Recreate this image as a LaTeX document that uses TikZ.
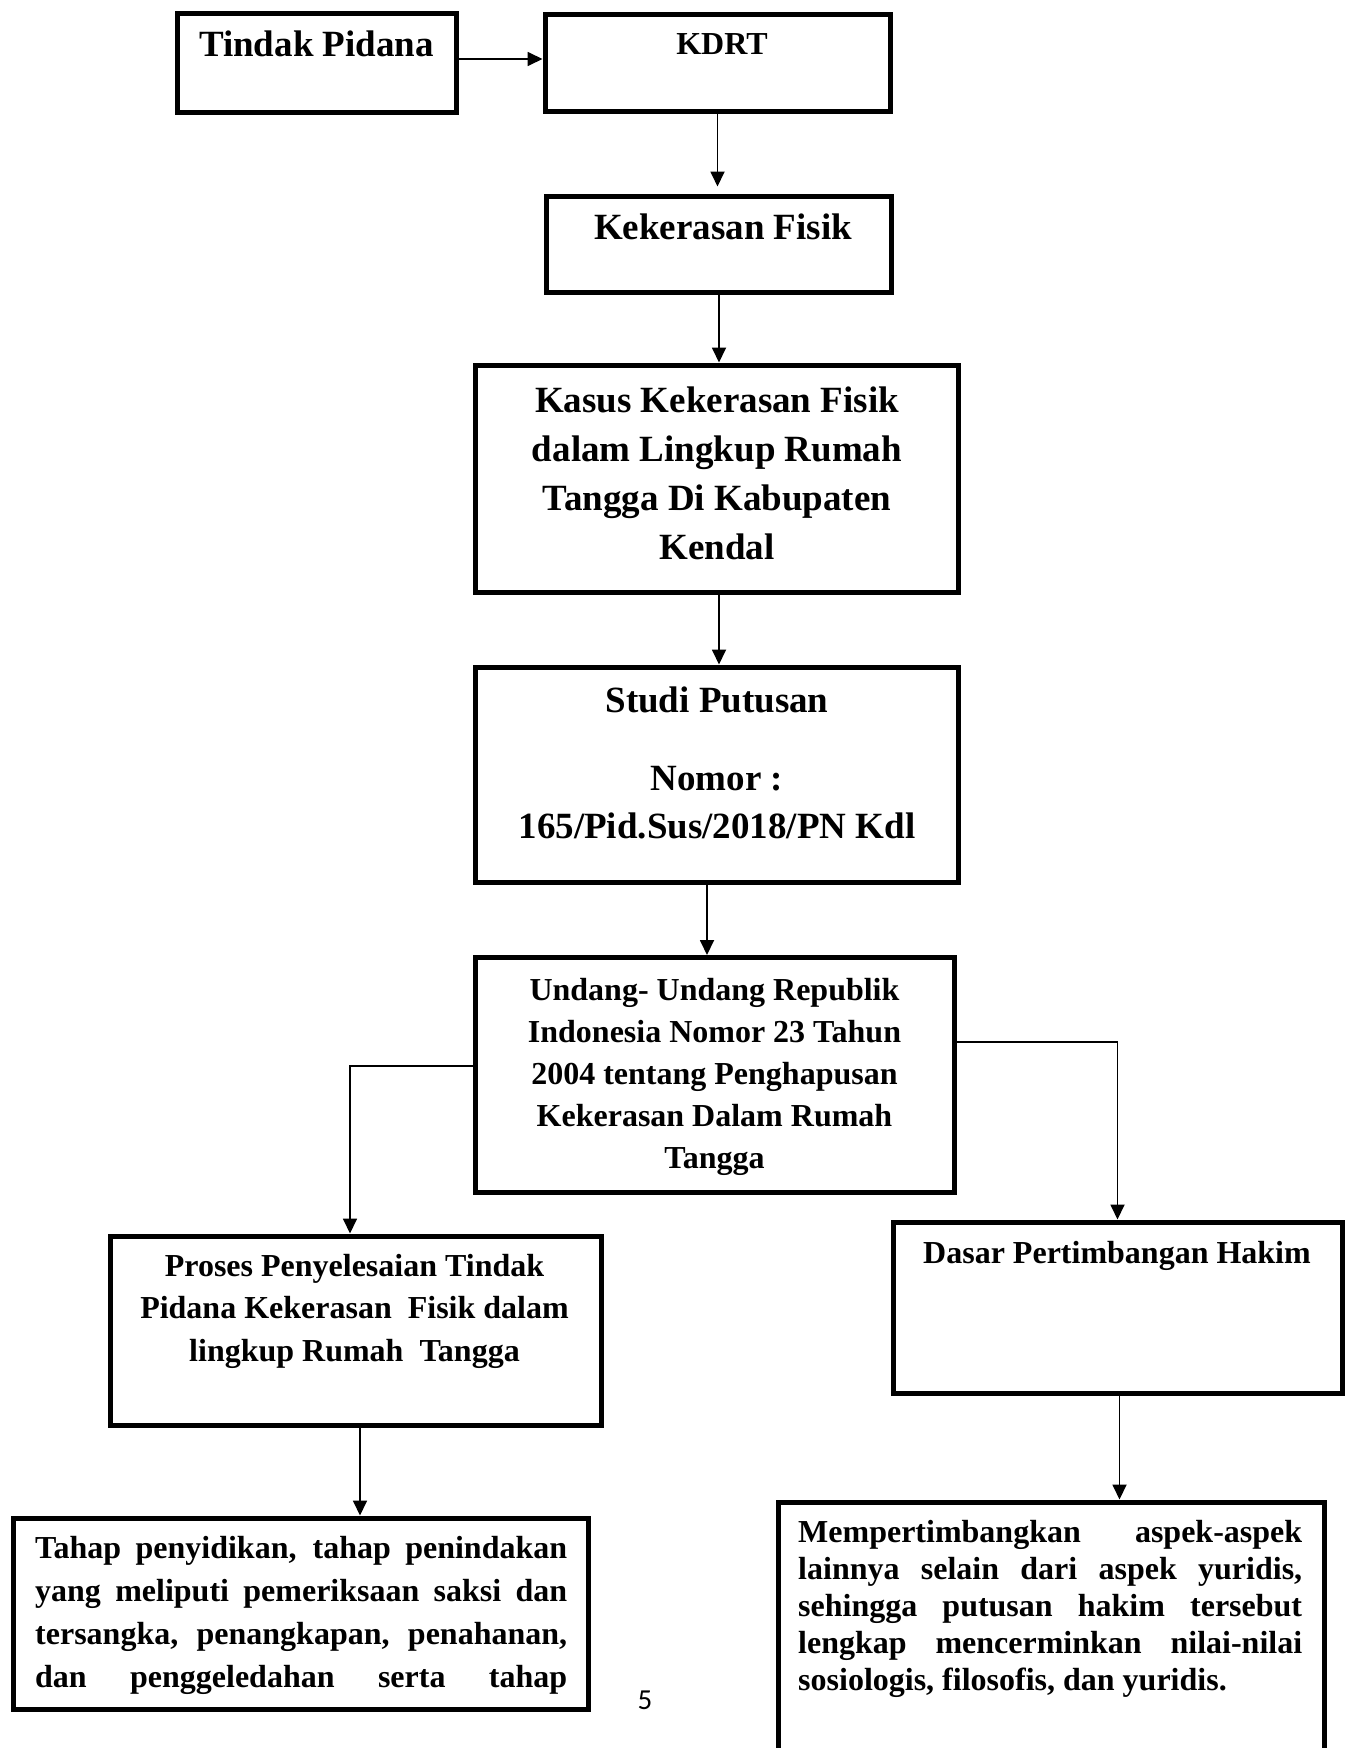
\documentclass[tikz,border=0pt]{standalone}
\usepackage{fontspec}
\setmainfont{Liberation Serif}
\newfontfamily\pagenumfont{Carlito}
\usetikzlibrary{arrows.meta}
\begin{document}
\begin{tikzpicture}[x=1pt,y=-1pt,
  box/.style={draw, line width=5pt, inner sep=0pt},
  arr/.style={line width=1.8pt, -{Triangle[length=15pt,width=14pt]}},
  txt/.style={inner sep=0pt, anchor=base},
  big/.style={font=\bfseries\fontsize{37}{49}\selectfont},
  mid/.style={font=\bfseries\fontsize{32}{42}\selectfont},
]
\useasboundingbox (0,0) rectangle (1352,1748);
\fill[white] (0,0) rectangle (1352,1748);
\clip (0,0) rectangle (1352,1748);

% boxes
\node[box, minimum width=279pt, minimum height=99pt] (tindak) at (316.5,62.5) {};
\node[box, minimum width=345pt, minimum height=97pt] (kdrt) at (717.5,62.5) {};
\node[box, minimum width=345pt, minimum height=96pt] (fisik) at (718.5,244) {};
\node[box, minimum width=483pt, minimum height=227pt] (kasus) at (717,478.5) {};
\node[box, minimum width=483pt, minimum height=215pt] (studi) at (717,774.5) {};
\node[box, minimum width=479pt, minimum height=235pt] (uu) at (715,1075) {};
\node[box, minimum width=491pt, minimum height=189pt] (proses) at (355.5,1330.5) {};
\node[box, minimum width=449pt, minimum height=171pt] (dasar) at (1117.5,1307.5) {};
\node[box, minimum width=575pt, minimum height=191pt] (tahap) at (300.5,1613.5) {};
\node[box, minimum width=546pt, minimum height=296pt] (memp) at (1051,1650) {};

% texts
\node[txt, big] (ttindak) at (316.5,56.7) {Tindak Pidana};
\node[txt, mid] (tkdrt) at (722,54.5) {KDRT};
\node[txt, big] (tfisik) at (723,239.5) {Kekerasan Fisik};
\node[txt] (tkasus) at (717,412) {\parbox[t]{480pt}{\centering\bfseries\fontsize{37}{49}\selectfont
  Kasus Kekerasan Fisik\\ dalam Lingkup Rumah\\ Tangga Di Kabupaten\\ Kendal}};
\node[txt] (tstudi) at (717,712) {\parbox[t]{480pt}{\centering\bfseries\fontsize{37}{48}\selectfont
  Studi Putusan\\[30pt] Nomor :\\ 165/Pid.Sus/2018/PN Kdl}};
\node[txt] (tuu) at (714.5,1000) {\parbox[t]{476pt}{\centering\bfseries\fontsize{32}{42.2}\selectfont
  Undang- Undang Republik\\ Indonesia Nomor 23 Tahun\\ 2004 tentang Penghapusan\\ Kekerasan Dalam Rumah\\ Tangga}};
\node[txt] (tproses) at (354.5,1276) {\parbox[t]{489pt}{\centering\bfseries\fontsize{32}{42.5}\selectfont
  Proses Penyelesaian Tindak\\ Pidana Kekerasan\ \ Fisik dalam\\ lingkup Rumah\ \ Tangga}};
\node[txt, mid] (tdasar) at (1117,1263) {Dasar Pertimbangan Hakim};
\node[txt, anchor=base west] (ttahap) at (35,1558) {\parbox[t]{532pt}{\bfseries\fontsize{32}{43}\selectfont
  \makebox[\linewidth][s]{Tahap penyidikan, tahap penindakan}\\
  \makebox[\linewidth][s]{yang meliputi pemeriksaan saksi dan}\\
  \makebox[\linewidth][s]{tersangka, penangkapan, penahanan,}\\
  \makebox[\linewidth][s]{dan penggeledahan serta tahap}}};
\node[txt, anchor=base west] (tmemp) at (798,1542) {\parbox[t]{504pt}{\bfseries\fontsize{32}{37}\selectfont
  \makebox[\linewidth][s]{Mempertimbangkan aspek-aspek}\\
  \makebox[\linewidth][s]{lainnya selain dari aspek yuridis,}\\
  \makebox[\linewidth][s]{sehingga putusan hakim tersebut}\\
  \makebox[\linewidth][s]{lengkap mencerminkan nilai-nilai}\\
  sosiologis, filosofis, dan yuridis.}};
\node[inner sep=0pt, font=\pagenumfont\fontsize{29}{29}\selectfont] (pnum) at (645,1700) {5};

% connectors
\draw[arr] ([yshift=3.5pt]tindak.east) -- ([yshift=3.5pt]kdrt.west);
\draw[arr, shorten >=7pt] (kdrt.south) -- (kdrt.south |- fisik.north);
\draw[arr] ([xshift=0.5pt]fisik.south) -- ([xshift=0.5pt]fisik.south |- kasus.north);
\draw[arr] ([xshift=2pt]kasus.south) -- ([xshift=2pt]kasus.south |- studi.north);
\draw[arr] ([xshift=-10pt]studi.south) -- ([xshift=-10pt]studi.south |- uu.north);
\draw[arr] ([yshift=9pt]uu.west) -| ([xshift=-5.5pt]proses.north);
\draw[arr] ([yshift=33pt]uu.east) -| (dasar.north);
\draw[arr] ([xshift=4.5pt]proses.south) -- ([xshift=4.5pt]proses.south |- tahap.north);
\draw[arr] ([xshift=2pt]dasar.south) -- ([xshift=2pt]dasar.south |- memp.north);
\end{tikzpicture}
\end{document}
